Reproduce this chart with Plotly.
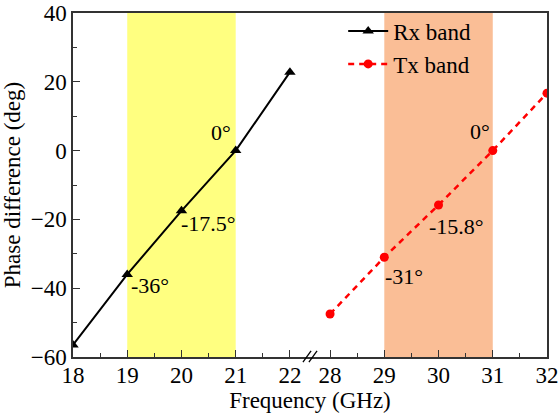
import plotly.graph_objects as go

# Measured phase difference of the two bands
rx_freq = [18, 19, 20, 21, 22]
rx_phase = [-56.5, -36, -17.5, 0, 22.8]
tx_freq = [28, 29, 30, 31, 32]
tx_phase = [-47.5, -31, -15.8, 0, 16.7]

# Operating bands (GHz)
rx_band = [19, 21]
tx_band = [29, 31]

# Phase callouts: (band, frequency, value, text)
callouts = [
    ("rx", 21, 0, "0°"),
    ("rx", 20, -17.5, "-17.5°"),
    ("rx", 19, -36, "-36°"),
    ("tx", 31, 0, "0°"),
    ("tx", 30, -15.8, "-15.8°"),
    ("tx", 29, -31, "-31°"),
]
# label offsets in pixels (xshift, yshift)
callout_shift = [(-15, 18), (27, -13), (23, -11), (-13, 19), (18, -22), (20, -19)]

tick_freqs = [18, 19, 20, 21, 22, 28, 29, 30, 31, 32]
minor_freqs = [18.5, 19.5, 20.5, 21.5, 28.5, 29.5, 30.5, 31.5]
phase_ticks = [-60, -40, -20, 0, 20, 40]
phase_minor = [-50, -30, -10, 10, 30]

# Broken frequency axis: 18-22 GHz, then 28-32 GHz
GAP = 0.74


def fx(f):
    return f - 18 if f <= 22 else f - 28 + 4 + GAP


FONT = "Liberation Serif, Times New Roman, serif"

fig = go.Figure()

for lo, hi, col in [(rx_band[0], rx_band[1], "#FFFF80"), (tx_band[0], tx_band[1], "#FABE96")]:
    fig.add_shape(type="rect", xref="x", yref="paper", x0=fx(lo), x1=fx(hi), y0=0, y1=1,
                  fillcolor=col, line=dict(width=0), layer="below")

fig.add_trace(go.Scatter(
    x=[fx(f) for f in rx_freq], y=rx_phase, name="Rx band", mode="lines+markers",
    line=dict(color="black", width=2),
    marker=dict(symbol="triangle-up", size=10, color="black"),
))
fig.add_trace(go.Scatter(
    x=[fx(f) for f in tx_freq], y=tx_phase, name="Tx band", mode="lines+markers",
    line=dict(color="#FF0000", width=2.5, dash="6px,5px"),
    marker=dict(symbol="circle", size=9, color="#FF0000"),
))

for (band, f, v, txt), (dx, dy) in zip(callouts, callout_shift):
    fig.add_annotation(x=fx(f), y=v, text=txt, showarrow=False, xanchor="center", yanchor="middle",
                       xshift=dx, yshift=dy, font=dict(family=FONT, size=22, color="black"))

# axis break marks
mid = (fx(22) + fx(28)) / 2
for off in (-0.055, 0.055):
    fig.add_shape(type="line", xref="x", yref="paper",
                  x0=mid + off - 0.075, x1=mid + off + 0.075, y0=-0.015, y1=0.018,
                  line=dict(color="black", width=1.3))

axis_common = dict(
    showline=True, linecolor="#333333", linewidth=1.5, mirror=True,
    ticks="inside", ticklen=7, tickwidth=1.2, tickcolor="#333333",
    showgrid=False, zeroline=False, automargin=False, ticklabeloverflow="allow",
    tickfont=dict(family=FONT, size=23, color="black"),
)

fig.update_xaxes(
    **axis_common,
    range=[0, fx(32) + 0.0001],
    ticklabelstandoff=-3,
    tickmode="array", tickvals=[fx(f) for f in tick_freqs], ticktext=[str(f) for f in tick_freqs],
    minor=dict(tickmode="array", tickvals=[fx(f) for f in minor_freqs], ticks="inside",
               ticklen=4, tickcolor="#333333", tickwidth=1.2),
    title=dict(text="Frequency (GHz)", font=dict(family=FONT, size=23, color="black"), standoff=0),
)
fig.update_yaxes(
    **axis_common,
    range=[-60, 40.0001], tickmode="array", tickvals=phase_ticks,
    minor=dict(tickmode="array", tickvals=phase_minor, ticks="inside",
               ticklen=4, tickcolor="#333333", tickwidth=1.2),
    title=dict(text="Phase difference (deg)", font=dict(family=FONT, size=23, color="black"), standoff=6),
)

fig.update_layout(
    width=558, height=417,
    margin=dict(l=73, r=11, t=10, b=60),
    plot_bgcolor="white", paper_bgcolor="white",
    font=dict(family=FONT, size=22, color="black"),
    legend=dict(x=0.57, y=1.01, xanchor="left", yanchor="top", bgcolor="rgba(0,0,0,0)",
                itemwidth=40,
                font=dict(family=FONT, size=23, color="black"), borderwidth=0),
)

fig.write_html("out.html")
